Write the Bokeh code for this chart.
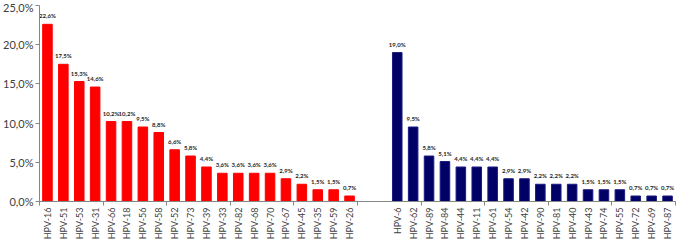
from bokeh.plotting import figure
from bokeh.models import FixedTicker, Range1d, ColumnDataSource
from bokeh.core.properties import value
from bokeh.embed import file_html
from bokeh.resources import INLINE

hr_types = ["HPV-16", "HPV-51", "HPV-53", "HPV-31", "HPV-66", "HPV-18", "HPV-56", "HPV-58",
            "HPV-52", "HPV-73", "HPV-39", "HPV-33", "HPV-82", "HPV-68", "HPV-70", "HPV-67",
            "HPV-45", "HPV-35", "HPV-59", "HPV-26"]
hr_values = [22.6, 17.5, 15.3, 14.6, 10.2, 10.2, 9.5, 8.8, 6.6, 5.8, 4.4, 3.6, 3.6, 3.6, 3.6,
             2.9, 2.2, 1.5, 1.5, 0.7]
lr_types = ["HPV-6", "HPV-62", "HPV-89", "HPV-84", "HPV-44", "HPV-11", "HPV-61", "HPV-54",
            "HPV-42", "HPV-90", "HPV-81", "HPV-40", "HPV-43", "HPV-74", "HPV-55", "HPV-72",
            "HPV-69", "HPV-87"]
lr_values = [19.0, 9.5, 5.8, 5.1, 4.4, 4.4, 4.4, 2.9, 2.9, 2.2, 2.2, 2.2, 1.5, 1.5, 1.5,
             0.7, 0.7, 0.7]
gap_slots = 2
y_ticks = [0, 5, 10, 15, 20, 25]

def fmt(v):
    return f"{v:.1f}%".replace(".", ",")

n_slots = len(hr_types) + gap_slots + len(lr_types)
hr_x = [i + 0.5 for i in range(len(hr_types))]
lr_start = len(hr_types) + gap_slots
lr_x = [lr_start + i + 0.5 for i in range(len(lr_types))]

p = figure(width=677, height=242, output_backend="svg", toolbar_location=None,
           x_range=Range1d(0, n_slots), y_range=Range1d(0, 25),
           min_border_left=4, min_border_top=5, min_border_right=2, min_border_bottom=0)
p.outline_line_color = None
p.grid.visible = False

hr_src = ColumnDataSource(dict(x=hr_x, v=hr_values, lab=[fmt(v) for v in hr_values]))
lr_src = ColumnDataSource(dict(x=lr_x, v=lr_values, lab=[fmt(v) for v in lr_values]))

p.vbar(x="x", top="v", width=0.6, source=hr_src, fill_color="#FF0000", line_color="#FF0000")
p.vbar(x="x", top="v", width=0.6, source=lr_src, fill_color="#000066", line_color="#1A1A80")

for src in (hr_src, lr_src):
    p.text(x="x", y="v", text="lab", source=src, text_align="center", text_baseline="bottom",
           y_offset=-5, text_font=value("Lato"), text_font_size="6px",
           text_font_style="bold", text_color="#262626")

centers = hr_x + lr_x
names = hr_types + lr_types
p.xaxis.ticker = FixedTicker(ticks=centers, minor_ticks=list(range(0, n_slots + 1, 4)))
p.xaxis.major_label_overrides = {c: n for c, n in zip(centers, names)}
p.xaxis.major_label_orientation = 1.5708
p.xaxis.major_tick_out = 0
p.xaxis.major_tick_in = 0
p.xaxis.minor_tick_out = 4
p.xaxis.minor_tick_in = 0
p.xaxis.major_label_standoff = 2
p.xaxis.major_label_text_font = "Lato"
p.xaxis.major_label_text_font_size = "9px"
p.xaxis.major_label_text_color = "#404040"
p.xaxis.axis_line_color = "#868686"
p.xaxis.minor_tick_line_color = "#868686"

p.yaxis.ticker = FixedTicker(ticks=y_ticks, minor_ticks=[])
p.yaxis.major_label_overrides = {t: fmt(t) for t in y_ticks}
p.yaxis.major_tick_out = 4
p.yaxis.major_tick_in = 0
p.yaxis.major_label_standoff = 2
p.yaxis.major_label_text_font = "Lato"
p.yaxis.major_label_text_font_size = "11px"
p.yaxis.major_label_text_color = "#404040"
p.yaxis.axis_line_color = "#868686"
p.yaxis.major_tick_line_color = "#868686"

open("out.html", "w").write(file_html(p, INLINE))
